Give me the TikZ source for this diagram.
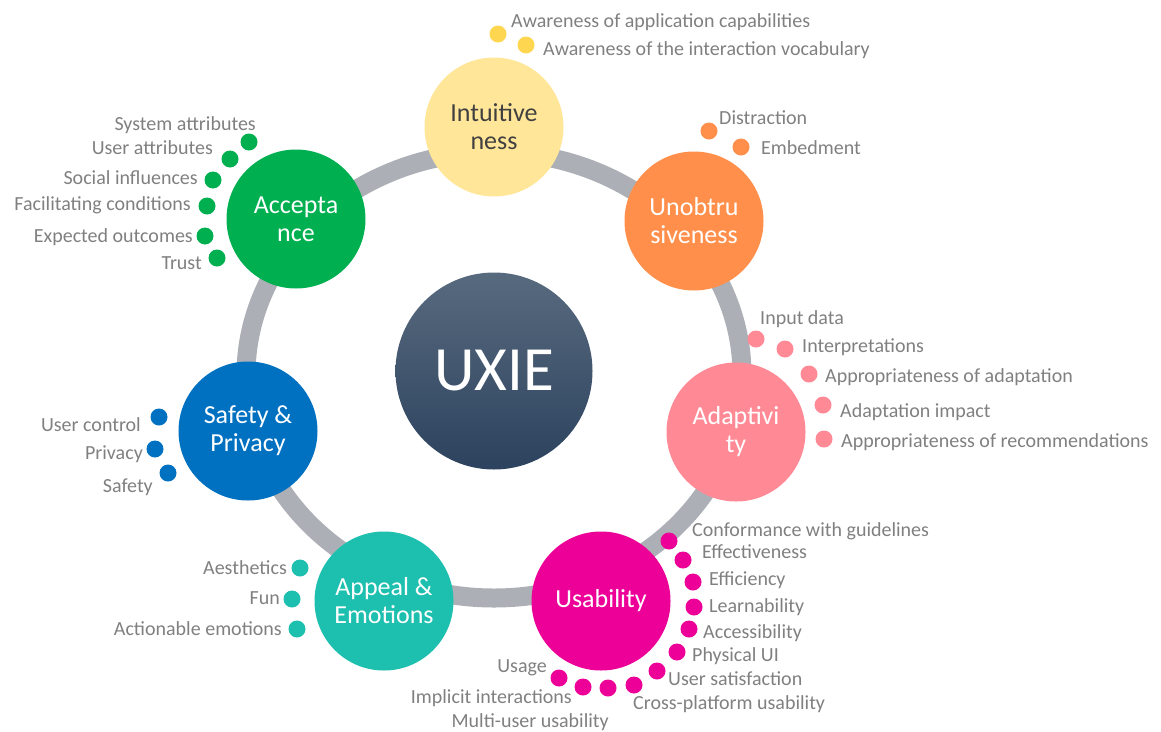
\documentclass[tikz,border=0pt]{standalone}
\usepackage{fontspec}
\setmainfont{Carlito}
\definecolor{ringgray}{RGB}{172,176,182}
\definecolor{intuY}{RGB}{255,230,153}
\definecolor{intuDot}{RGB}{255,214,79}
\definecolor{unobO}{RGB}{255,143,74}
\definecolor{adaptP}{RGB}{255,138,150}
\definecolor{usabM}{RGB}{236,0,152}
\definecolor{appealT}{RGB}{29,191,175}
\definecolor{safeB}{RGB}{0,112,192}
\definecolor{acceptG}{RGB}{0,176,80}
\definecolor{uxieTop}{RGB}{88,106,126}
\definecolor{uxieBot}{RGB}{44,66,94}
\definecolor{labelgray}{RGB}{128,128,128}
\definecolor{darktext}{RGB}{64,64,64}
\tikzset{
  pillar/.style={circle, inner sep=0pt, minimum size=139pt, fill=#1,
    text=white, align=center, font=\fontsize{26}{28}\selectfont},
  bullet/.style={circle, inner sep=0pt, minimum size=17pt, fill=#1},
  lblL/.style={anchor=west, inner sep=0pt, text height=13pt, text depth=0pt,
    text=labelgray, font=\fontsize{20}{22}\selectfont},
  lblR/.style={lblL, anchor=east},
}
\begin{document}
\begin{tikzpicture}[x=1pt,y=-1pt]
\useasboundingbox (0,0) rectangle (1161,731);
% ring joining the seven dimensions
\draw[ringgray, line width=19pt] (494,375) ellipse [x radius=248, y radius=223];

% centre
\node[circle, inner sep=0pt, minimum size=197pt, top color=uxieTop, bottom color=uxieBot,
  text=white, font=\fontsize{63}{63}\selectfont] (uxie) at (494,371) {UXIE};

% dimensions
\node[pillar=intuY, text=darktext] (intu) at (494,127) {Intuitive\\ness};
\node[pillar=unobO] (unob) at (694,221) {Unobtru\\siveness};
\node[pillar=adaptP] (adap) at (736,432) {Adaptivi\\ty};
\node[pillar=usabM] (usab) at (601,601) {Usability};
\node[pillar=appealT] (appe) at (384,601) {Appeal \&\\Emotions};
\node[pillar=safeB] (safe) at (248,431) {Safety \&\\Privacy};
\node[pillar=acceptG] (acce) at (296,219) {Accepta\\nce};

% Intuitiveness
\node[bullet=intuDot] (i1) at (498,34) {};
\node[bullet=intuDot] (i2) at (526,45) {};
\node[lblL] (li1) at (511,21) {Awareness of application capabilities};
\node[lblL] (li2) at (543,49) {Awareness of the interaction vocabulary};

% Unobtrusiveness
\node[bullet=unobO] (u1) at (709,131) {};
\node[bullet=unobO] (u2) at (741,147) {};
\node[lblL] (lu1) at (719,118) {Distraction};
\node[lblL] (lu2) at (761,148) {Embedment};

% Adaptivity
\node[bullet=adaptP] (a1) at (756,339) {};
\node[bullet=adaptP] (a2) at (785,349) {};
\node[bullet=adaptP] (a3) at (809,374) {};
\node[bullet=adaptP] (a4) at (823,405) {};
\node[bullet=adaptP] (a5) at (824,439) {};
\node[lblL] (la1) at (760,318) {Input data};
\node[lblL] (la2) at (802,346) {Interpretations};
\node[lblL] (la3) at (825,376) {Appropriateness of adaptation};
\node[lblL] (la4) at (840,411) {Adaptation impact};
\node[lblL] (la5) at (841,441) {Appropriateness of recommendations};

% Usability
\node[bullet=usabM] (s1) at (669,541) {};
\node[bullet=usabM] (s2) at (683,560) {};
\node[bullet=usabM] (s3) at (693,582) {};
\node[bullet=usabM] (s4) at (694,607) {};
\node[bullet=usabM] (s5) at (689,629) {};
\node[bullet=usabM] (s6) at (677,652) {};
\node[bullet=usabM] (s7) at (657,671) {};
\node[bullet=usabM] (s8) at (634,685) {};
\node[bullet=usabM] (s9) at (608,688) {};
\node[bullet=usabM] (s10) at (583,687) {};
\node[bullet=usabM] (s11) at (559,678) {};
\node[lblL] (ls1) at (692,530) {Conformance with guidelines};
\node[lblL] (ls2) at (702,552) {Effectiveness};
\node[lblL] (ls3) at (709,579) {Efficiency};
\node[lblL] (ls4) at (709,606) {Learnability};
\node[lblL] (ls5) at (703,632) {Accessibility};
\node[lblL] (ls6) at (692,655) {Physical UI};
\node[lblL] (ls7) at (668,679) {User satisfaction};
\node[lblL] (ls8) at (633,703) {Cross-platform usability};
\node[lblR] (ls9) at (609,721) {Multi-user usability};
\node[lblR] (ls10) at (572,697) {Implicit interactions};
\node[lblR] (ls11) at (547,666) {Usage};

% Appeal & Emotions
\node[bullet=appealT] (e1) at (300,568) {};
\node[bullet=appealT] (e2) at (292,599) {};
\node[bullet=appealT] (e3) at (297,629) {};
\node[lblR] (le1) at (287,568) {Aesthetics};
\node[lblR] (le2) at (280,598) {Fun};
\node[lblR] (le3) at (282,629) {Actionable emotions};

% Safety & Privacy
\node[bullet=safeB] (p1) at (159,417) {};
\node[bullet=safeB] (p2) at (155,449) {};
\node[bullet=safeB] (p3) at (168,473) {};
\node[lblR] (lp1) at (141,425) {User control};
\node[lblR] (lp2) at (143,453) {Privacy};
\node[lblR] (lp3) at (153,486) {Safety};

% Acceptance
\node[bullet=acceptG] (c1) at (249,142) {};
\node[bullet=acceptG] (c2) at (230,159) {};
\node[bullet=acceptG] (c3) at (213,180) {};
\node[bullet=acceptG] (c4) at (207,206) {};
\node[bullet=acceptG] (c5) at (205,236) {};
\node[bullet=acceptG] (c6) at (217,258) {};
\node[lblR] (lc1) at (256,124) {System attributes};
\node[lblR] (lc2) at (213,148) {User attributes};
\node[lblR] (lc3) at (198,178) {Social influences};
\node[lblR] (lc4) at (191,204) {Facilitating conditions};
\node[lblR] (lc5) at (193,236) {Expected outcomes};
\node[lblR] (lc6) at (202,263) {Trust};
\end{tikzpicture}
\end{document}
